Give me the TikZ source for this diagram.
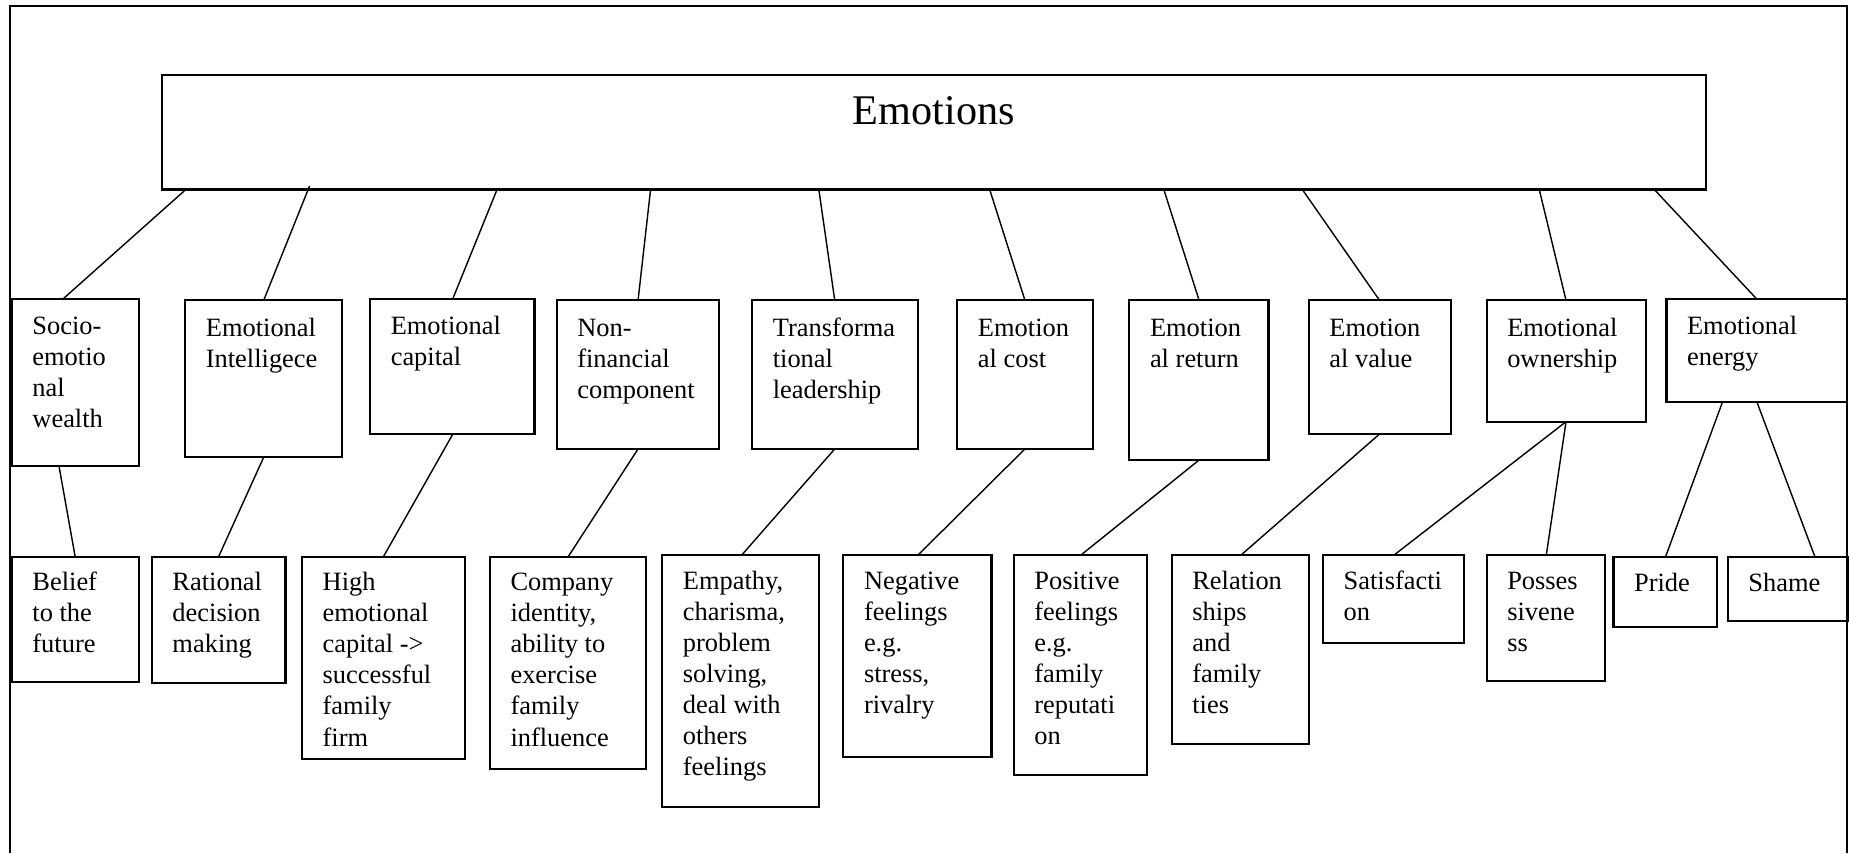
\documentclass[tikz,border=0pt]{standalone}
\usepackage{fontspec}
\setmainfont{Liberation Serif}
\usetikzlibrary{calc}
\tikzset{
  bx/.style={draw, line width=0.9pt, inner sep=0pt, outer sep=0pt, anchor=north west},
  txt/.style={inner sep=0pt, outer sep=0pt, anchor=base west, font=\fontsize{11.2}{13.15}\selectfont},
  conn/.style={line width=0.6pt},
  framestyle/.style={line width=0.8pt},
}
% name, x, y, w, h, first-baseline offset, text
\newcommand{\mkbox}[7]{%
  \node[bx, minimum width={#4*0.5pt}, minimum height={#5*0.5pt}] (#1) at (#2,#3) {};
  \pgfmathsetmacro{\mytw}{(#4-20)*0.5}%
  \node[txt] (#1-t) at ($(#1.north west)+(17.5,#6)$) {\parbox[t]{\mytw pt}{#7}};
}
\begin{document}
\begin{tikzpicture}[x=0.5pt, y=-0.5pt]
\useasboundingbox (0,0) rectangle (1568,723);
% outer frame (bottom edge lies outside the picture)
\draw[framestyle] (8.4,723) -- (8.4,5.1) -- (1565.5,5.1) -- (1565.5,723);

% top box
\node[bx, minimum width={1309*0.5pt}, minimum height={97.3*0.5pt}] (E) at (137,63.3) {};
\node[inner sep=0pt, anchor=base, font=\fontsize{17.9}{21}\selectfont] (E-t) at ($(E.north)+(0,42.6)$) {Emotions};

% level 1
\mkbox{soc}{10}{253.2}{108}{141.8}{30.5}{Socio-\\emotio\\nal\\wealth}
\mkbox{ei}{157}{254.5}{133}{133}{31}{Emotional\\Intelligece}
\mkbox{ec}{313.7}{253.4}{139.3}{114.7}{30}{Emotional\\capital}
\mkbox{nf}{471.8}{254.5}{137.6}{126}{30.5}{Non-\\financial\\component}
\mkbox{tl}{637.5}{254.5}{140.2}{126}{30.5}{Transforma\\tional\\leadership}
\mkbox{ecost}{811.4}{254.5}{114.9}{126}{30.5}{Emotion\\al cost}
\mkbox{eret}{957.2}{254.5}{117.9}{135.4}{30.5}{Emotion\\al return}
\mkbox{eval}{1109.2}{254.5}{120.3}{113.4}{30.5}{Emotion\\al value}
\mkbox{eown}{1260}{254.5}{135}{102.9}{30.5}{Emotional\\ownership}
\mkbox{eeng}{1412.4}{253.4}{152.9}{87.6}{30}{Emotional\\energy}

% level 2
\mkbox{belief}{10}{471.8}{108}{106.5}{29}{Belief\\to the\\future}
\mkbox{rat}{128.7}{471.8}{113.3}{106.8}{29}{Rational\\decision\\making}
\mkbox{high}{256}{471.8}{138.1}{171.2}{29}{High\\emotional\\capital ->\\successful\\family\\firm}
\mkbox{comp}{415.2}{471.8}{132}{179.7}{29}{Company\\identity,\\ability to\\exercise\\family\\influence}
\mkbox{emp}{561.3}{470.4}{133.1}{213.3}{29.5}{Empathy,\\charisma,\\problem\\solving,\\deal with\\others\\feelings}
\mkbox{neg}{714.8}{470.4}{125.5}{170.9}{29.5}{Negative\\feelings\\e.g.\\stress,\\rivalry}
\mkbox{pos}{859.2}{470.4}{113.2}{186.4}{29.5}{Positive\\feelings\\e.g.\\family\\reputati\\on}
\mkbox{rel}{993.1}{470.4}{116.4}{160.5}{29.5}{Relation\\ships\\and\\family\\ties}
\mkbox{sat}{1121.3}{470.4}{119.6}{74.3}{29.5}{Satisfacti\\on}
\mkbox{poss}{1260}{470.4}{100.5}{106.6}{29.5}{Posses\\sivene\\ss}
\mkbox{pride}{1367.5}{471.8}{87.8}{59.3}{29.5}{Pride}
\mkbox{shame}{1464.4}{471.8}{101.6}{54.2}{29.5}{Shame}

% connectors: top box -> level 1
\draw[conn] ($(E.south west)+(20.5,0)$) -- ($(soc.north west)+(43.6,0)$);
\draw[conn] ($(E.south west)+(125.4,-3)$) -- ($(ei.north west)+(66.5,0)$);
\draw[conn] ($(E.south west)+(284.3,0)$) -- ($(ec.north west)+(70,0)$);
\draw[conn] ($(E.south west)+(414.4,0)$) -- ($(nf.north west)+(69,0)$);
\draw[conn] ($(E.south west)+(557,0)$) -- ($(tl.north west)+(70,0)$);
\draw[conn] ($(E.south west)+(701.8,0)$) -- ($(ecost.north west)+(57.3,0)$);
\draw[conn] ($(E.south west)+(849.4,0)$) -- ($(eret.north west)+(59.1,0)$);
\draw[conn] ($(E.south west)+(966.8,0)$) -- ($(eval.north west)+(60,0)$);
\draw[conn] ($(E.south west)+(1167.6,0)$) -- ($(eown.north west)+(67.3,0)$);
\draw[conn] ($(E.south west)+(1265.1,0)$) -- ($(eeng.north west)+(76.5,0)$);

% connectors: level 1 -> level 2
\draw[conn] ($(soc.south west)+(40,0)$) -- ($(belief.north west)+(53.7,0)$);
\draw[conn] ($(ei.south west)+(66.5,0)$) -- ($(rat.north west)+(56.6,0)$);
\draw[conn] ($(ec.south west)+(70,0)$) -- ($(high.north west)+(69,0)$);
\draw[conn] ($(nf.south west)+(69,0)$) -- ($(comp.north west)+(66.4,0)$);
\draw[conn] ($(tl.south west)+(70,0)$) -- ($(emp.north west)+(67.4,0)$);
\draw[conn] ($(ecost.south west)+(57.3,0)$) -- ($(neg.north west)+(63.3,0)$);
\draw[conn] ($(eret.south west)+(59.1,0)$) -- ($(pos.north west)+(57,0)$);
\draw[conn] ($(eval.south west)+(60,0)$) -- ($(rel.north west)+(58.8,0)$);
\draw[conn] ($(eown.south west)+(67.3,0)$) -- ($(sat.north west)+(60.3,0)$);
\draw[conn] ($(eown.south west)+(67.3,0)$) -- ($(poss.north west)+(50.6,0)$);
\draw[conn] ($(eeng.south west)+(47.4,0)$) -- ($(pride.north west)+(44.2,0)$);
\draw[conn] ($(eeng.south west)+(76.8,0)$) -- ($(shame.north west)+(73.8,0)$);
\end{tikzpicture}
\end{document}
